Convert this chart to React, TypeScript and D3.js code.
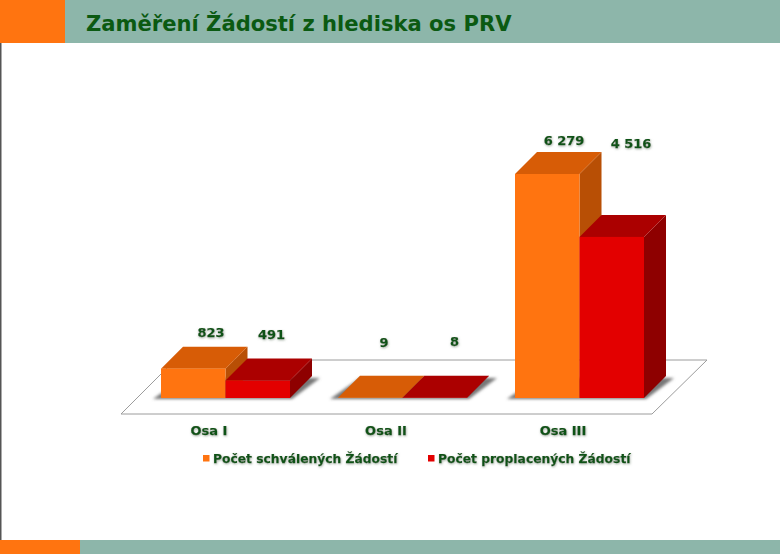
import React from "react";
import * as d3 from "d3";

const categories = ["Osa I", "Osa II", "Osa III"];
const seriesNames = ["Počet schválených Žádostí", "Počet proplacených Žádostí"];
const approved = [823, 9, 6279];
const paid = [491, 8, 4516];
const approvedLabels = ["823", "9", "6 279"];
const paidLabels = ["491", "8", "4 516"];

const palettes = [
  { front: "#ff7410", top: "#d75c06", side: "#b84f05" },
  { front: "#e30000", top: "#ab0000", side: "#8e0000" },
];
// label placement relative to the bar's front-top-left corner
const labelOffsets = [
  [[50, -32], [46, -51], [49, -29]],
  [[46, -41], [52, -52], [51.5, -89]],
];
const FONT = "'DejaVu Sans', Verdana, sans-serif";
const DEPTH = 22;
const BASE = 398;

export default function App() {
  const x = d3.scaleBand<string>().domain(categories).range([161, 692]).paddingInner(0).paddingOuter(0);
  const y = d3.scaleLinear().domain([0, 6279]).range([BASE, 174]);
  const barW = 64.5;
  const series = [approved, paid];
  const seriesLabels = [approvedLabels, paidLabels];
  const floor = d3.line()([[121, 414], [652, 414], [707, 360], [175, 360]]) + "Z";
  const poly = (p: [number, number][]) => d3.line()(p) + "Z";

  return (
    <svg width={780} height={554} style={{ position: "absolute", left: 0, top: 0, background: "#fff" }}>
      <defs>
        <filter id="blur" x="-20%" y="-50%" width="140%" height="200%">
          <feGaussianBlur stdDeviation="1.8" />
        </filter>
        <filter id="txt" x="-10%" y="-30%" width="120%" height="160%">
          <feDropShadow dx="0.5" dy="1" stdDeviation="0.8" floodColor="#8a9a8a" floodOpacity="0.8" />
        </filter>
      </defs>
      <rect x={0} y={43} width={1.5} height={511} fill="#555" />
      <rect x={0} y={0} width={780} height={43} fill="#8db6aa" />
      <rect x={0} y={0} width={65} height={43} fill="#ff7410" />
      <rect x={0} y={540} width={780} height={14} fill="#8db6aa" />
      <rect x={0} y={540} width={80} height={14} fill="#ff7410" />
      <text x={86} y={31} fontFamily={FONT} fontWeight="bold" fontSize={21.1} fill="#0b5a12">
        Zaměření Žádostí z hlediska os PRV
      </text>

      <path d={floor} fill="#fff" stroke="#9c9c9c" strokeWidth={1} />

      {categories.map((c) => {
        const x0 = x(c)!;
        return (
          <path
            key={c}
            d={poly([
              [x0 - 8, BASE + 1],
              [x0 + 2 * barW + 2, BASE + 1],
              [x0 + 2 * barW + DEPTH + 8, BASE - DEPTH + 2],
              [x0 + DEPTH, BASE - DEPTH + 2],
            ])}
            fill="#777"
            filter="url(#blur)"
          />
        );
      })}

      {categories.map((c, ci) =>
        [0, 1].map((si) => {
          const v = series[si][ci];
          const l = x(c)! + si * barW;
          const r = l + barW;
          const t = y(v);
          const p = palettes[si];
          return (
            <g key={c + si}>
              <path d={poly([[r, BASE], [r + DEPTH, BASE - DEPTH], [r + DEPTH, t - DEPTH], [r, t]])} fill={p.side} />
              <path d={poly([[l, t], [l + DEPTH, t - DEPTH], [r + DEPTH, t - DEPTH], [r, t]])} fill={p.top} />
              <rect x={l} y={t} width={barW} height={BASE - t} fill={p.front} />
            </g>
          );
        })
      )}

      <g
        fontFamily={FONT}
        fontWeight="bold"
        fontSize={13}
        fill="#0f5314"
        stroke="#0f5314"
        strokeWidth={0.25}
        filter="url(#txt)"
      >
        {categories.map((c, ci) =>
          [0, 1].map((si) => (
            <text
              key={c + si}
              x={x(c)! + si * barW + labelOffsets[si][ci][0]}
              y={y(series[si][ci]) + labelOffsets[si][ci][1]}
              textAnchor="middle"
            >
              {seriesLabels[si][ci]}
            </text>
          ))
        )}
        {categories.map((c) => (
          <text key={c} x={x(c)! + 48} y={435} textAnchor="middle">
            {c}
          </text>
        ))}
        {seriesNames.map((n, i) => (
          <text key={n} x={[213, 438][i]} y={463} fontSize={12.3}>
            {n}
          </text>
        ))}
      </g>
      {seriesNames.map((n, i) => (
        <rect key={n} x={[203, 428][i]} y={455} width={6.5} height={6.5} fill={palettes[i].front} />
      ))}
    </svg>
  );
}
